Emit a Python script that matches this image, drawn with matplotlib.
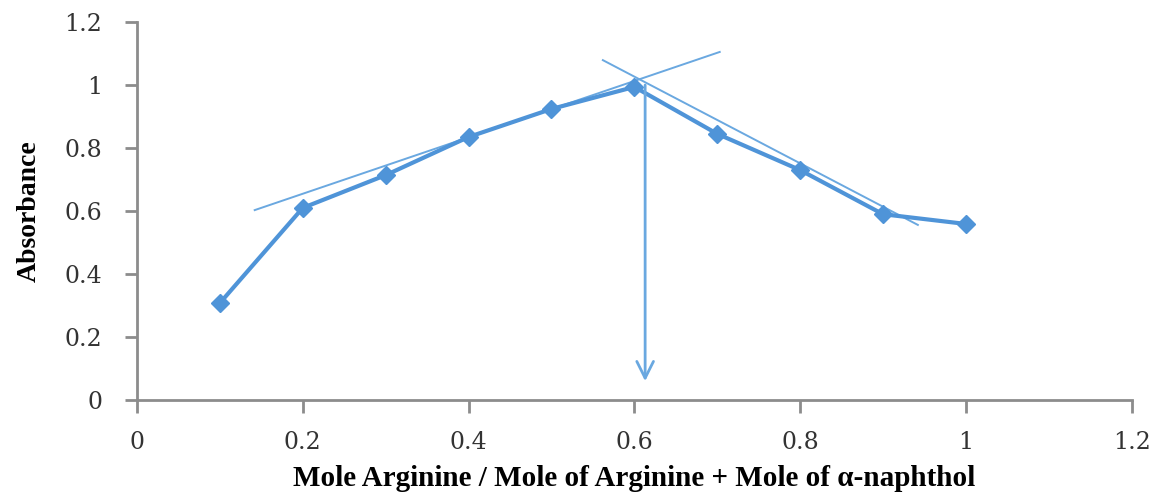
import numpy as np
import matplotlib
matplotlib.use("Agg")
import matplotlib.pyplot as plt

# mole fraction vs absorbance
mole_frac = [0.1, 0.2, 0.3, 0.4, 0.5, 0.6, 0.7, 0.8, 0.9, 1.0]
absorb = [0.308, 0.61, 0.714, 0.835, 0.924, 0.994, 0.845, 0.73, 0.59, 0.559]

# hand drawn tangents and the drop arrow
tan1_x = [0.142, 0.703]
tan1_y = [0.603, 1.105]
tan2_x = [0.562, 0.942]
tan2_y = [1.079, 0.556]
arrow_x = 0.613
arrow_top = 1.0
arrow_bottom = 0.06

xticks = [0, 0.2, 0.4, 0.6, 0.8, 1, 1.2]
yticks = [0, 0.2, 0.4, 0.6, 0.8, 1, 1.2]

blue = "#4f94d8"
light = "#6aa8e0"
grey = "#8c8c8c"

plt.rcParams['font.family'] = ['DejaVu Serif', 'Liberation Serif']

fig = plt.figure(figsize=(11.54, 4.97), dpi=100)
ax = fig.add_axes([0.1187, 0.195, 0.862, 0.7607])

ax.plot(tan1_x, tan1_y, color=light, lw=1.4)
ax.plot(tan2_x, tan2_y, color=light, lw=1.4)
ax.plot(mole_frac, absorb, color=blue, lw=3, marker="D", ms=9, mec=blue, mfc=blue)
ax.annotate("", xy=(arrow_x, arrow_bottom), xytext=(arrow_x, arrow_top),
            arrowprops=dict(arrowstyle="->", color=light, lw=2,
                            mutation_scale=30, shrinkA=0, shrinkB=0))

ax.set_xlim(0, 1.2)
ax.set_ylim(0, 1.2)
ax.set_xticks(xticks)
ax.set_xticklabels([f"{t:g}" for t in xticks])
ax.set_yticks(yticks)
ax.set_yticklabels([f"{t:g}" for t in yticks])

for s in ["top", "right"]:
    ax.spines[s].set_visible(False)
for s in ["left", "bottom"]:
    ax.spines[s].set_color(grey)
    ax.spines[s].set_linewidth(2)
ax.tick_params(direction="out", length=9, width=2, color=grey,
               labelsize=17, labelcolor="#333333")
ax.tick_params(axis="y", pad=16)
ax.tick_params(axis="x", pad=13)

ax.set_xlabel("Mole Arginine / Mole of Arginine + Mole of α-naphthol",
              fontsize=21, fontweight="bold", labelpad=8, family="Liberation Serif")
ax.set_ylabel("Absorbance", fontsize=20, fontweight="bold", labelpad=16,
              family="Liberation Serif")

fig.savefig("out.png", dpi=100)
